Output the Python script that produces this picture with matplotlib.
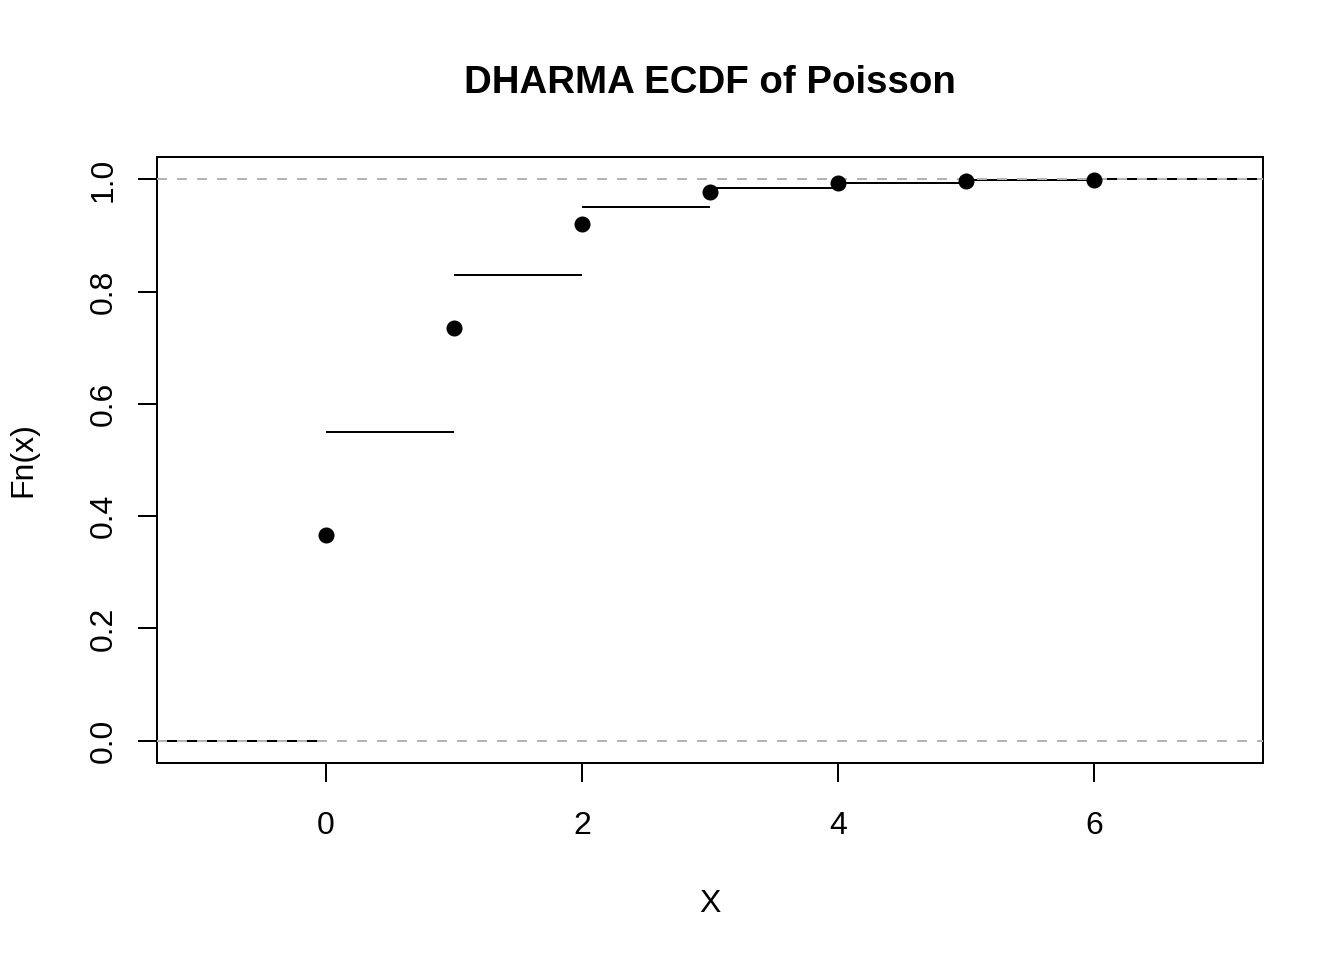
import numpy as np
import matplotlib.pyplot as plt

plt.rcParams['font.family'] = ['Liberation Sans', 'DejaVu Sans']

# ECDF step levels between the knots
knots = [0, 1, 2, 3, 4, 5, 6]
step_levels = [0.0, 0.55, 0.829, 0.950, 0.985, 0.9935, 0.9995, 1.0]

# points drawn at the knots
point_x = [0, 1, 2, 3, 4, 5, 6]
point_y = [0.367, 0.735, 0.921, 0.978, 0.993, 0.997, 0.9995]

x_ticks = [0, 2, 4, 6]
y_ticks = [0.0, 0.2, 0.4, 0.6, 0.8, 1.0]

fig = plt.figure(figsize=(7, 5), dpi=192)
ax = fig.add_axes([0.1168, 0.2052, 0.8229, 0.6313])

xlim = (-1.32, 7.32)
ax.set_xlim(*xlim)
ax.set_ylim(-0.04, 1.04)

# horizontal step segments
starts = [xlim[0]] + knots
ends = knots + [xlim[1]]
ax.hlines(step_levels, starts, ends, colors='black', linewidth=0.75, zorder=2)

# reference lines at 0 and 1
for h in (0, 1):
    ax.axhline(h, color='#b3b3b3', linewidth=0.75, dashes=(5, 5), zorder=3)

ax.plot(point_x, point_y, 'o', color='black', markersize=5.0, zorder=4)

ax.set_xticks(x_ticks)
ax.set_xticklabels([str(t) for t in x_ticks])
ax.set_yticks(y_ticks)
ax.set_yticklabels([f'{t:.1f}' for t in y_ticks], rotation=90, va='center')
ax.tick_params(direction='out', length=7.2, width=0.75, labelsize=12)
ax.tick_params(axis='x', pad=10.7)
ax.tick_params(axis='y', pad=7)
for s in ax.spines.values():
    s.set_linewidth(0.75)

ax.set_xlabel('X', fontsize=12, labelpad=18)
ax.set_ylabel('Fn(x)', fontsize=12, labelpad=19)
ax.set_title('DHARMA ECDF of Poisson', fontsize=14.4, fontweight='bold', pad=24)

fig.savefig('out.png', dpi=192)
